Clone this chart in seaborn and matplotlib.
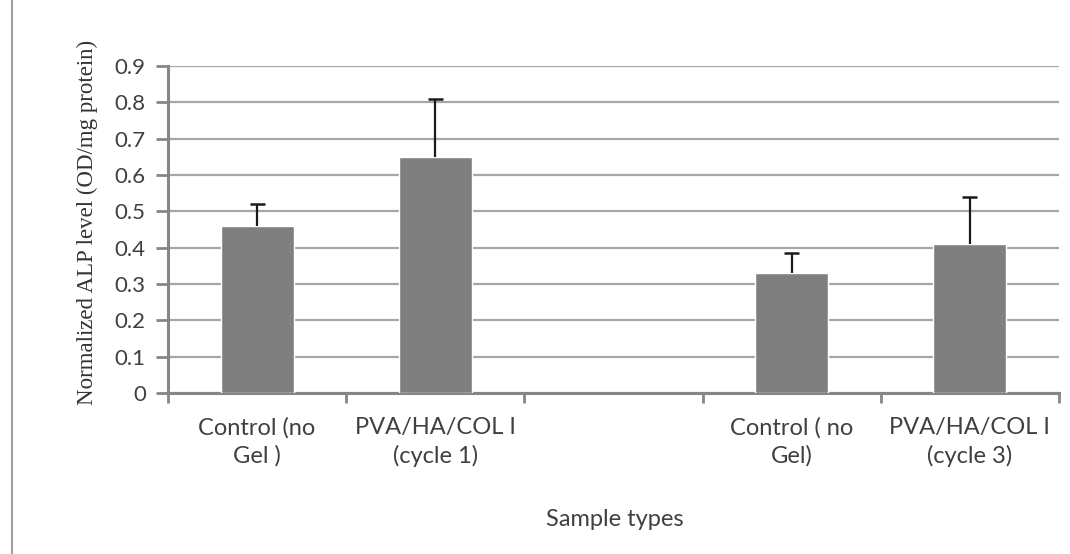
import matplotlib
matplotlib.use("Agg")
import matplotlib.pyplot as plt
import seaborn as sns
import numpy as np
import pandas as pd
from matplotlib.lines import Line2D

categories = ["Control (no\nGel )", "PVA/HA/COL I\n(cycle 1)", "", "Control ( no\nGel)", "PVA/HA/COL I\n(cycle 3)"]
values = [0.46, 0.65, np.nan, 0.33, 0.41]
errors = [0.06, 0.16, np.nan, 0.055, 0.13]
yticks = [0, 0.1, 0.2, 0.3, 0.4, 0.5, 0.6, 0.7, 0.8, 0.9]

sns.set_theme(style="white")
plt.rcParams['font.family'] = ['Lato', 'DejaVu Sans']

TXT = "#404040"
keys = [f"c{i}" for i in range(len(categories))]
df = pd.DataFrame({"key": keys, "value": values})

fig = plt.figure(figsize=(10.7, 5.54), dpi=100)
ax = fig.add_axes([0.157, 0.2906, 0.9897 - 0.157, 0.881 - 0.2906])

sns.barplot(data=df, x="key", y="value", color="#7f7f7f", width=0.41,
            saturation=1, errorbar=None, ax=ax, zorder=3)
cap = 0.042
for i, (v, e) in enumerate(zip(values, errors)):
    if not np.isnan(v):
        ax.vlines(i, v, v + e, color="#1a1a1a", linewidth=1.6, zorder=4)
        ax.hlines(v + e, i - cap, i + cap, color="#1a1a1a", linewidth=1.8, zorder=4)

ax.set_xlim(-0.5, len(categories) - 0.5)
ax.set_ylim(0, 0.9)
ax.set_yticks(yticks)
ax.set_yticklabels(["0" if t == 0 else f"{t:.1f}" for t in yticks], fontsize=16, color=TXT)
ax.yaxis.grid(True, color="#a6a6a6", linewidth=1.6, zorder=0)
ax.set_axisbelow(True)

# boundary ticks (major) and centered labels (minor)
ax.set_xticks(np.arange(-0.5, len(categories), 1.0))
ax.set_xticklabels([])
ax.set_xticks(np.arange(len(categories)), minor=True)
ax.set_xticklabels(categories, minor=True, fontsize=17, color=TXT, linespacing=1.4)
ax.tick_params(axis="x", which="minor", length=0, pad=17)
ax.tick_params(axis="x", which="major", length=7, width=2, color="#868686", direction="out")
ax.tick_params(axis="y", length=9, width=2, color="#868686", direction="out", pad=7)
ax.tick_params(bottom=True, left=True)

for s in ["top", "right"]:
    ax.spines[s].set_visible(False)
for s in ["left", "bottom"]:
    ax.spines[s].set_color("#868686")
    ax.spines[s].set_linewidth(2.2)

ax.set_xlabel("Sample types", fontsize=17, color=TXT)
ax.xaxis.set_label_coords(0.502, -0.355)
ax.set_ylabel("Normalized ALP level (OD/mg protein)", fontsize=16.5,
              family=["Liberation Serif", "DejaVu Serif"], color="#333333")
ax.yaxis.set_label_coords(-0.079, 0.52)

fig.add_artist(Line2D([12 / 1070, 12 / 1070], [0, 1], color="#a0a0a0", linewidth=1.5))

fig.savefig("out.png", dpi=100, facecolor="white")
